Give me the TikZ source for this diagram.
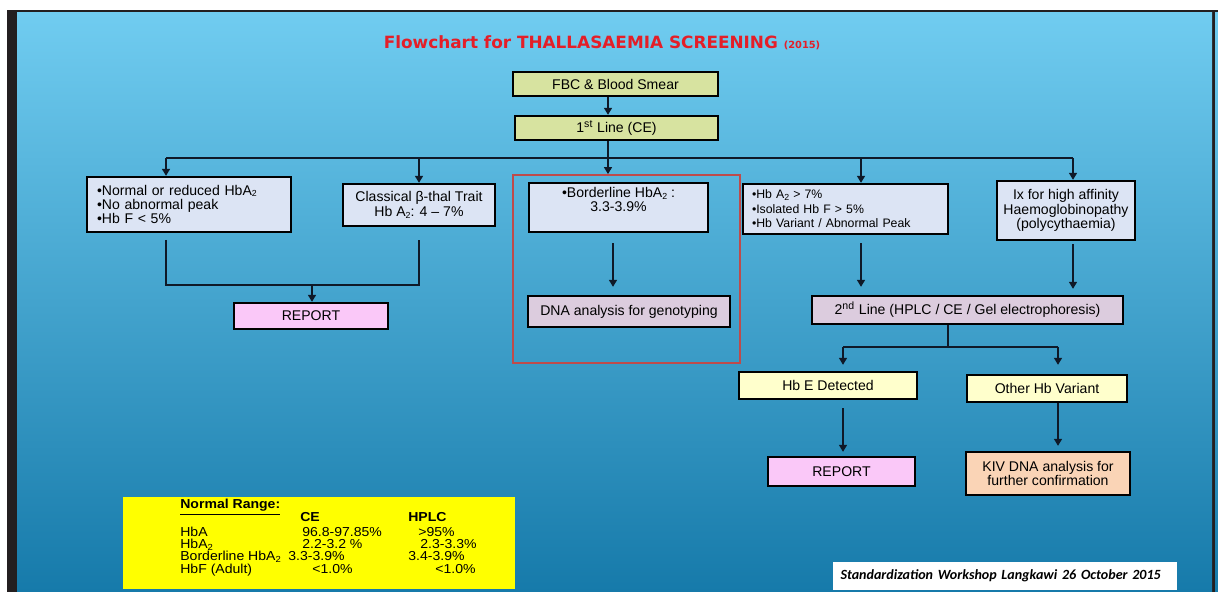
\documentclass[tikz,border=0pt]{standalone}
\usepackage{fontspec}
\setmainfont{Liberation Sans}
\newfontfamily\titlefont{DejaVu Sans}
\newfontfamily\notefont{Carlito}
\newfontfamily\tablefont[FakeStretch=1.08]{Liberation Sans}
\usetikzlibrary{arrows.meta, positioning, calc}

\definecolor{bgtop}{RGB}{112,204,240}
\definecolor{bgmid}{RGB}{45,168,222}
\definecolor{bgbot}{RGB}{22,122,170}
\definecolor{framedark}{RGB}{35,31,32}
\definecolor{olivebox}{RGB}{215,227,160}
\definecolor{bluebox}{RGB}{220,228,244}
\definecolor{lavbox}{RGB}{220,204,222}
\definecolor{pinkbox}{RGB}{250,200,248}
\definecolor{lightyel}{RGB}{255,255,204}
\definecolor{peachbox}{RGB}{250,212,182}
\definecolor{groupred}{RGB}{190,75,75}
\definecolor{linedark}{RGB}{15,25,40}
\definecolor{titlered}{RGB}{228,30,40}
\definecolor{normyellow}{RGB}{255,255,0}

%% row of the normal-range table: label, CE start, CE, HPLC start, HPLC
\newcommand{\nrow}[5]{\rlap{#1}\hspace*{#2}\rlap{#3}\hspace*{\dimexpr#4-#2\relax}#5}
\newcommand{\normfont}{\tablefont\fontsize{7.4}{7}\selectfont\lineskiplimit=-5pt\relax}
\newcommand{\subtwo}{\raisebox{-0.25ex}{\fontsize{5}{5}\selectfont 2}}

\tikzset{
  myarr/.style  = {-{Triangle[length=4pt,width=4.5pt]}, line width=1.1pt, draw=linedark},
  myline/.style = {line width=1.1pt, draw=linedark},
  %% Box colour presets
  gbox/.style = {draw=black, line width=1.3pt, fill=olivebox,  align=center, inner sep=0pt},
  bbox/.style = {draw=black, line width=1.3pt, fill=bluebox,   align=center, inner sep=0pt},
  lbox/.style = {draw=black, line width=1.3pt, fill=lavbox,    align=center, inner sep=0pt},
  pbox/.style = {draw=black, line width=1.3pt, fill=pinkbox,   align=center, inner sep=0pt},
  ybox/.style = {draw=black, line width=1.3pt, fill=lightyel,  align=center, inner sep=0pt},
  obox/.style = {draw=black, line width=1.3pt, fill=peachbox,  align=center, inner sep=0pt},
}

\begin{document}
\begin{tikzpicture}[every node/.style={font=\fontsize{8}{8.2}\selectfont}]

%% ---- Slide background ----
\useasboundingbox (0,0) rectangle (24.36,-11.84);
\fill[white] (0,0) rectangle (24.36,-11.84);
\fill[framedark] (0.14,-0.20) rectangle (24.36,-11.84);
\shade[top color=bgtop, middle color=bgmid, bottom color=bgbot]
  (0.34,-0.26) rectangle (24.24,-11.84);
\shade[top color=bgtop, middle color=bgmid, bottom color=bgbot]
  (24.30,-0.26) rectangle (24.36,-11.84);

%% ---- Title ----
\node[font=\titlefont\bfseries\fontsize{9.6}{11}\selectfont, text=titlered] (title) at (12.04,-0.86)
  {Flowchart for THALLASAEMIA SCREENING {\fontsize{5.6}{6}\selectfont(2015)}};

%% ---- (1) FBC and 1st line ----
\node[gbox, minimum width=4.10cm, minimum height=0.48cm] (fbc)   at (12.31,-1.68) {FBC \& Blood Smear};
\node[gbox, minimum width=4.06cm, minimum height=0.48cm] (line1) at (12.33,-2.56) {1\textsuperscript{st} Line (CE)};

%% Bus under 1st line
\coordinate (bus)  at (12.16,-3.16);
\coordinate (busL) at (3.32,-3.16);
\coordinate (busH) at (17.22,-3.16);
\coordinate (busR) at (21.46,-3.16);

\draw[myarr]  (fbc.south -| bus) -- (line1.north -| bus);
\draw[myline] (line1.south -| bus) -- (bus);
\draw[myline] (busL) -- (busR);

%% ---- (2) First-line results ----
\node[bbox, text width=3.68cm, inner xsep=0.2cm, align=left, minimum height=1.10cm] (normal) at (3.78,-4.09) {
  •Normal or reduced HbA\subtwo\\
  •No abnormal peak\\
  •Hb F < 5\%
};
\node[bbox, minimum width=3.04cm, minimum height=0.84cm] (classical) at (8.38,-4.10) {
  Classical β-thal Trait\\
  Hb A\subtwo: 4 -- 7\%
};
\node[draw=groupred, line width=1pt, minimum width=4.54cm, minimum height=3.76cm] (grp) at (12.53,-5.38) {};
\node[bbox, minimum width=3.58cm, minimum height=0.98cm] (border) at (12.37,-4.15) {
  •Borderline HbA\subtwo\ :\\
  3.3-3.9\%\\[0.03cm]\mbox{}
};
\node[bbox, text width=3.74cm, inner xsep=0.18cm, align=left, minimum height=1.0cm,
      font=\fontsize{7}{8.2}\selectfont] (high) at (16.91,-4.18) {
  •Hb A\subtwo\ > 7\%\\
  •Isolated Hb F > 5\%\\
  •Hb Variant / Abnormal Peak
};
\node[bbox, minimum width=2.76cm, minimum height=1.18cm] (ix) at (21.32,-4.21) {
  Ix for high affinity\\
  Haemoglobinopathy\\
  (polycythaemia)
};

\draw[myarr] (busL) -- (normal.north -| busL);
\draw[myarr] (classical.north |- bus) -- (classical.north);
\draw[myarr] (bus) -- (grp.north -| bus);
\draw[myarr] (busH) -- (high.north -| busH);
\draw[myarr] (busR) -- (ix.north -| busR);

%% ---- (3) Left branch: report ----
\node[pbox, minimum width=3.08cm, minimum height=0.52cm] (report1) at (6.22,-6.32) {REPORT};

\coordinate (mergeL) at (3.32,-4.80);
\coordinate (mergeR) at (8.38,-4.80);
\coordinate (merge)  at (6.24,-5.70);
\draw[myline] (mergeL) |- (merge -| mergeR) -- (mergeR);
\draw[myarr]  (merge) -- (report1.north -| merge);

%% ---- (4) Borderline: DNA analysis ----
\node[lbox, minimum width=4.04cm, minimum height=0.62cm] (dna) at (12.58,-6.23) {DNA analysis for genotyping};
\draw[myarr, shorten <=0.2cm, shorten >=0.16cm]
  ([xshift=-0.11cm]border.south) -- ([xshift=-0.11cm]border.south |- dna.north);

%% ---- (5) Second line ----
\node[lbox, minimum width=6.22cm, minimum height=0.56cm] (line2) at (19.35,-6.20)
  {2\textsuperscript{nd} Line (HPLC / CE / Gel electrophoresis)};
\draw[myarr, shorten <=0.16cm, shorten >=0.16cm] (high.south -| busH) -- (line2.north -| busH);
\draw[myarr, shorten <=0.06cm, shorten >=0.12cm] (ix.south -| busR) -- (line2.north -| busR);

\coordinate (split)  at (18.96,-6.94);
\coordinate (splitL) at (16.86,-6.94);
\coordinate (splitR) at (21.16,-6.94);

\node[ybox, minimum width=3.56cm, minimum height=0.54cm] (hbe)   at (16.56,-7.71) {Hb E Detected};
\node[ybox, minimum width=3.20cm, minimum height=0.54cm] (other) at (20.94,-7.77) {Other Hb Variant};

\draw[myline] (line2.south -| split) -- (split);
\draw[myline] (splitL) -- (splitR);
\draw[myarr, shorten >=0.12cm] (splitL) -- (hbe.north -| splitL);
\draw[myarr, shorten >=0.18cm] (splitR) -- (other.north -| splitR);

%% ---- (6) Outcomes ----
\node[pbox, minimum width=2.94cm, minimum height=0.58cm] (report2) at (16.83,-9.43) {REPORT};
\node[obox, minimum width=3.28cm, minimum height=0.86cm] (kiv) at (20.96,-9.47) {
  KIV DNA analysis for\\
  further confirmation
};
\draw[myarr, shorten <=0.16cm, shorten >=0.08cm] (hbe.south -| splitL) -- (report2.north -| splitL);
\draw[myarr, shorten >=0.1cm] (other.south -| splitR) -- (kiv.north -| splitR);

%% ---- Normal range table ----
\node[fill=normyellow, minimum width=7.84cm, minimum height=1.84cm, inner sep=0pt] (normbox) at (6.38,-10.86) {};
\node[anchor=north west, align=left, inner sep=0pt, font=\normfont] (normtab) at (3.60,-9.98) {
  \underline{\textbf{Normal Range:}}\\
  \nrow{}{2.40cm}{\textbf{CE}}{4.56cm}{\textbf{HPLC}}\\[1.7pt]
  \nrow{HbA}{2.44cm}{96.8-97.85\%}{4.76cm}{>95\%}\\
  \nrow{HbA\subtwo}{2.44cm}{2.2-3.2 \%}{4.80cm}{2.3-3.3\%}\\
  \nrow{Borderline HbA\subtwo}{2.16cm}{3.3-3.9\%}{4.56cm}{3.4-3.9\%}\\
  \nrow{HbF (Adult)}{2.64cm}{<1.0\%}{5.10cm}{<1.0\%}
};

%% ---- Footer ----
\node[fill=white, minimum height=0.56cm, text width=6.58cm, inner xsep=0.15cm, align=left,
      font=\notefont\bfseries\itshape\fontsize{8}{9}\selectfont] (workshop) at (20.10,-11.52)
  {Standardization Workshop Langkawi 26 October 2015};

\end{tikzpicture}
\end{document}
